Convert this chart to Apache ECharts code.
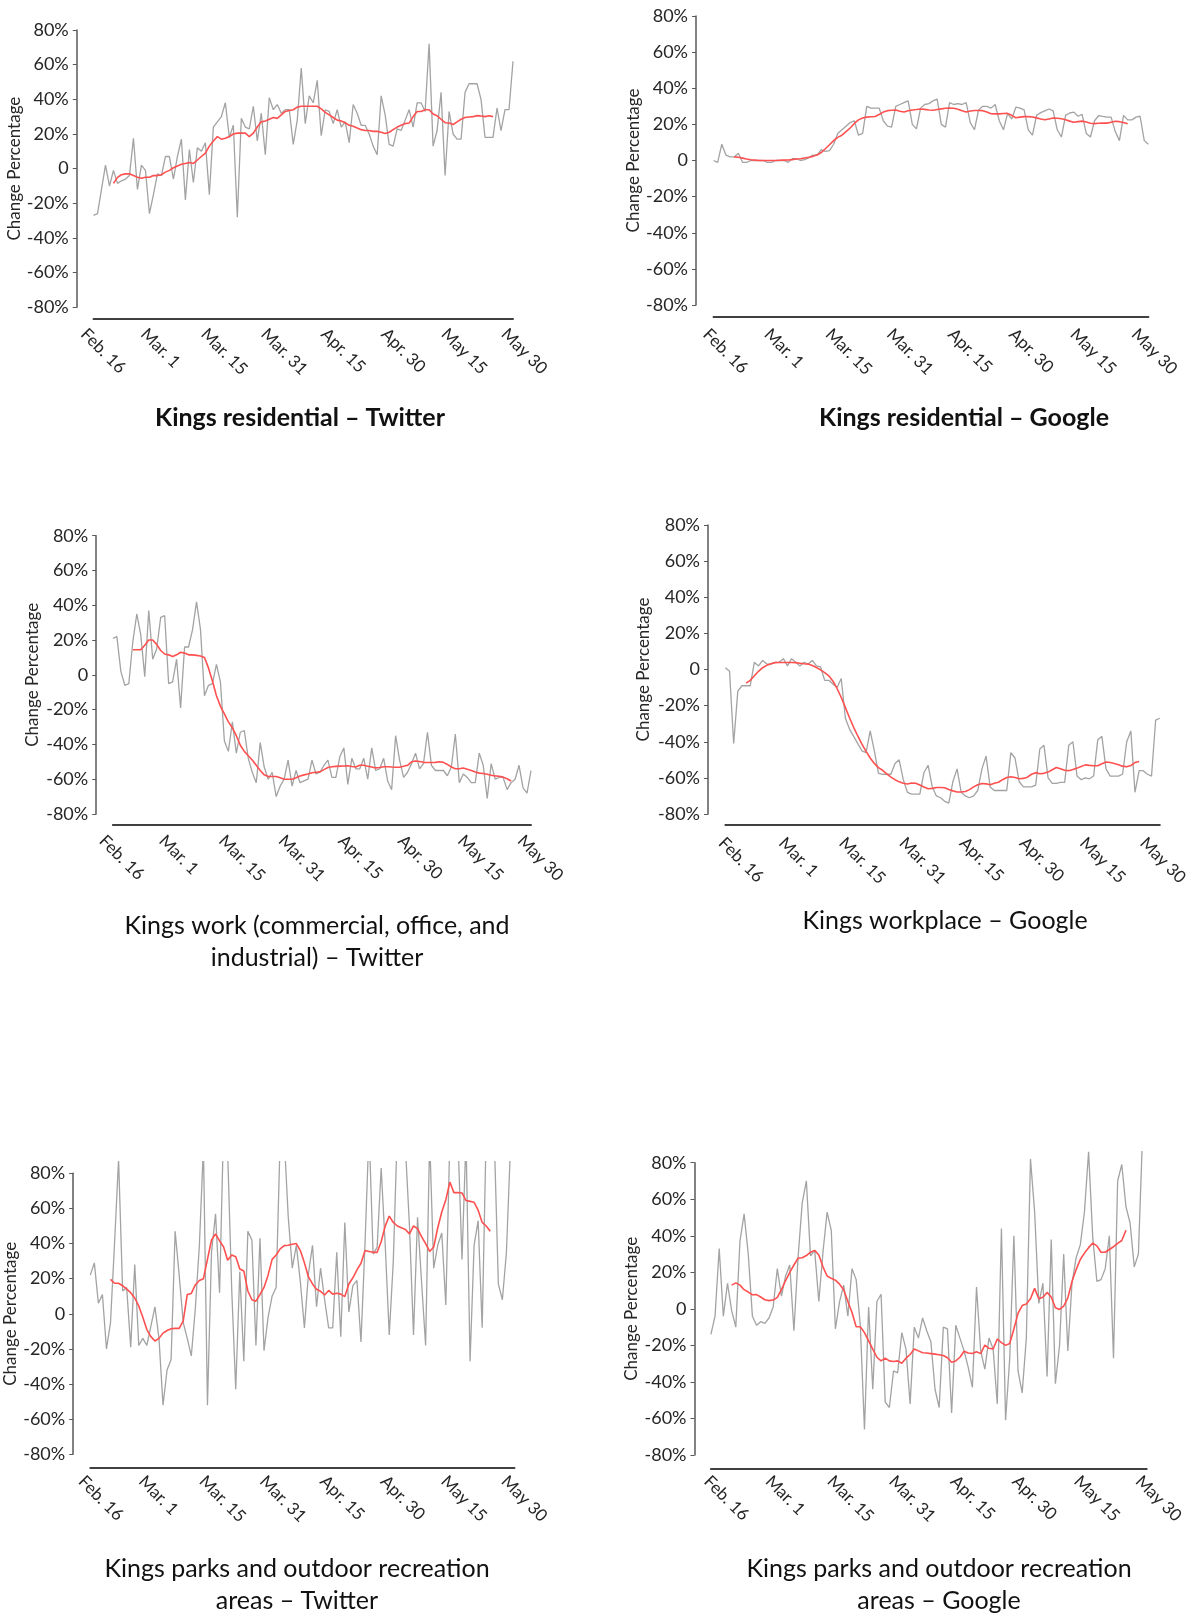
<!DOCTYPE html>
<html><head><meta charset="utf-8">
<script src="https://cdn.jsdelivr.net/npm/echarts@6/dist/echarts.min.js"></script>
<style>html,body{margin:0;padding:0;background:#fff}#c{width:1191px;height:1617px}</style>
</head><body><div id="c"></div>
<script>
// ---------- tick labels ----------
const xTickLabels = ['Feb. 16','Mar. 1','Mar. 15','Mar. 31','Apr. 15','Apr. 30','May 15','May 30'];
const yTickValues = [-80,-60,-40,-20,0,20,40,60,80];
const yTickLabels = ['-80%','-60%','-40%','-20%','0','20%','40%','60%','80%'];
const yAxisTitle = 'Change Percentage';
const panelTitles = [
  'Kings residential – Twitter',
  'Kings residential – Google',
  'Kings work (commercial, office, and\nindustrial) – Twitter',
  'Kings workplace – Google',
  'Kings parks and outdoor recreation\nareas – Twitter',
  'Kings parks and outdoor recreation\nareas – Google'
];

// ---------- daily values (day 0 = Feb. 16 ... day 105 = May 30) ----------
const residentialTwitterDaily = [-27,-26,-12,2,-10,-1,-8.5,-7,-6,-4,
 17.5,-12,2,-1,-26,-15,-3,-4,7,7,
 -6,7,17,-18,11,-8,12,10,15,-15,
 24,27,30,38,18,25,-28,29,24,23,
 36,16,32,8,41,34,37,32,34,34,
 14,28,58,26,42,38,51,19,34,33,
 26,34,24,27,15,37,32,25,25,20,
 13,8,42,31,14,13,23,22,28,34,
 24,38,38,33,72,13,22,44,-4,33,
 20,17,17,44,49,49,49,40,18,18,
 18,35,22,34,34,62];
const residentialTwitterAvg = [null,null,null,null,null,
 -8.5,-5,-3.5,-3,-3, -4,-5,-5.5,-5,-5, -4,-4,-3.5,-2,-1,
 0.5,1.5,2.5,3,3.5, 3,5,7,9,13, 16,18.5,17,17.5,18.5,
 20,20.5,20.5,20.5,18.5, 20.5,24,27,27.5,28.5, 29.5,29,31,33,33.5,
 34,35.5,36,36,36, 36,36,34.5,32.5,31, 29.5,28,27.5,26.5,25,
 24.5,23.5,22.5,22,22, 21.5,21.5,21,20.3,21, 22.5,24,25,26,26.3,
 30,33,33,34,34, 31.5,30.5,28.5,26.5,26.3, 25.5,27,28.5,29.5,29.8,
 30,30.6,30.4,30,30.5, 30];

const residentialGoogleDaily = [0,-1,9,3,2,2,4,-1,-1,0,
 0,0,0,-1,-1,0,0,0,-1,1,
 1,0,0.5,1.5,3,3,6,5,5.5,9,
 15,17,19,21,22,14,15,30,29,29,
 29,22,19,18.5,30,31,32,33,20,17.5,
 29,31,31.5,33,34,20,18.5,32,31,31.5,
 31,32,21,17,28,30,30,29,31,22,
 17,26,23,29.5,29,28,17,14,25,26.5,
 27.5,28.5,27.5,17,13,25,26.3,26.8,24.5,25.5,
 15,13,22,24.9,24.4,24,24,16,11,25,
 22.5,22.5,24,24.5,11,9];
const residentialGoogleAvg = [null,null,null,null,null,
 2,1.8,1.3,0.8,0.4, 0.2,0,0,0,0, 0,0.1,0.2,0.3,0.5,
 0.8,1,1.4,1.8,2.3, 3,4.4,6.5,8.7,11, 12.8,14,16,18,20.5,
 22.5,23.5,24,24.2,24.4, 25.5,26.8,27.6,27.8,28, 27.3,26.8,27.5,28,28.2,
 28.5,28.3,28,27.8,28.2, 28.6,28.9,29.1,28.9,28.4, 27.5,26.9,27.4,27.7,27.7,
 27.6,26.8,25.9,25.8,25.8, 26,26.1,25,23.7,24, 24.3,24.3,24.1,23.6,23,
 22.6,23,23.5,23.4,23.1, 22.6,21.8,21.2,21.5,21.8, 21.3,20.6,20.4,20.6,20.7,
 20.7,21.2,21.7,21.5,21, 20.4];

const workTwitterDaily = [21,22,2,-6,-5,19,35,23,-1,37,
 9,15,33,34,-5,-4,9,-19,16,16,
 26,42,26,-12,-6,-5,6,-4,-38,-44,
 -27,-45,-33,-32,-48,-56,-62,-39,-53,-60,
 -56,-70,-64,-60,-49,-64,-55,-62,-61,-60,
 -49,-57,-56,-52,-49,-59,-59,-47,-42,-63,
 -48,-54,-54,-48,-60,-42,-55,-54,-48,-61,
 -66,-35,-49,-59,-56,-51,-45,-54,-51,-33,
 -52,-55,-55,-55,-58,-53,-34,-62,-57,-59,
 -62,-62,-45,-52,-71,-51,-60,-59,-59,-66,
 -62,-60,-52,-65,-68,-55];
const workTwitterAvg = [null,null,null,null,null,
 14.4,14.4,14.4,17,20, 20,17.5,14,12,11.5, 10.5,11.5,13,12.5,11.5,
 11.5,11.2,10.8,10,4, -3.5,-12,-18,-22.5,-27, -30.5,-35,-40.5,-44,-46.5,
 -49,-52,-55,-57.5,-58.4, -58.4,-58.4,-59.2,-60,-60, -60,-59.2,-58.2,-57.5,-57,
 -56.3,-56,-55.8,-54.5,-53.3, -52.8,-52.6,-52.5,-52.4,-52.3, -52.7,-53,-52,-52,-52.5,
 -53,-53.5,-53.3,-52.8,-52.8, -53,-53.1,-53.1,-52.6,-52, -50,-49.5,-49.8,-50.3,-50.4,
 -50.4,-50.3,-50,-50.3,-51.5, -53,-54,-54,-53.6,-54.3, -55,-55.8,-56.5,-56.7,-57.1,
 -57.7,-58.1,-58.3,-58.8,-59.7, -61];

const workplaceGoogleDaily = [1,-1,-41,-12,-9,-9,-9,4,2,5,
 3,3,4,4,6,2,6,4,2,4,
 3,5,2,1.5,-6,-6,-8,-10,-5,-27,
 -33,-37,-41,-45,-46,-34,-45,-57.5,-58,-58,
 -58,-52,-50,-61,-68,-69,-69,-69,-57,-53,
 -65,-70,-71,-73,-74,-62,-55,-68,-70,-71,
 -70,-67,-55,-48,-65,-67,-67,-67,-67,-46,
 -49,-62,-65,-65,-65,-64,-44,-42,-60,-63,
 -63,-62.5,-62.5,-42,-40,-59,-61,-60,-60.5,-59,
 -39,-37,-55,-59,-59,-59,-58,-40,-34,-68,
 -56,-56,-58,-59,-28,-27];
const workplaceGoogleAvg = [null,null,null,null,null,
 -7.5,-6,-3.5,-1,1, 2.3,3.2,3.8,3.9,3.9, 3.9,3.9,3.8,3.5,3.2,
 3,2.2,1.1,-0.2,-1.7, -3.5,-6.5,-10.5,-15.5,-21, -26.7,-32,-36.8,-41.3,-45.3,
 -49,-52,-54.3,-55.8,-57.8, -59.6,-61,-62.2,-63,-63.4, -62.8,-63,-64,-65,-66,
 -65.8,-65.3,-65.3,-65.5,-66.4, -67.2,-67.8,-67.8,-67.5,-66.5, -65,-63.8,-63.1,-63.3,-63.8,
 -63,-62.4,-61,-59.8,-59.4, -59.8,-60.5,-60.3,-59.6,-58, -57.1,-57.7,-57.5,-56.8,-55.5,
 -54.3,-55,-55.8,-56,-55.4, -54.6,-53.7,-52.8,-53.1,-53.3, -53.3,-52.2,-51.2,-51.5,-52,
 -52.7,-53.5,-53.8,-53.2,-51.5, -50.9];

const parksTwitterDaily = [22,29,6,11,-20,-5,40,88,13,15,
 -19,28,-18,-14,-18,-7,4,-14,-52,-32,
 -26,47,22,-5,-14,-24,3,39,95,-52,
 35,57,12,108,92,14,-43,24,-27,47,
 42,-18,43,-21,-2,10,15,100,100,55,
 26,39,18,-8,23,39,4,26,8,-8,
 -8,35,-13,52,1,16,19,-16,40,105,
 34,38,83,39,-12,30,105,105,95,50,
 -12,55,18,-18,100,26,39,46,5,100,
 110,100,31,100,-27,39,53,-8,105,110,
 100,17,8,35,95,105];
const parksTwitterAvg = [null,null,null,null,null,
 19.6,17.4,17.4,16,14, 12,9,4.5,-2,-9, -13,-15.5,-14,-11,-9.5,
 -8.5,-8.3,-8.3,-4,11, 11.6,16.5,19,20,31, 42,45.5,41.5,38,30.5,
 33.5,32.5,25.5,24.4,13, 8,7.2,11,15,22, 31,33.5,37,38.8,39,
 39.6,40,36,29,21, 17,14,12.8,10.7,13.3, 11.2,11.7,11.2,9.8,17,
 20.5,25,28.8,36,35.5, 35,35,41,50,55.6, 52,50,49,48,45.5,
 50,48.5,44,40,35.5, 38,49,58,65,75, 69,69,68.8,64.5,64,
 63.5,59,52,50,47];

const parksGoogleDaily = [-14,-4,33,-4,14,-1,-10,37,52,30,
 -4,-9,-7,-8,-5,1,22,7,18,24,
 -12,28,58,70,29,32,4,31,53,43,
 -11,4,13,-4,22,16,-9,-66,1,-44,
 4,8,-51,-54,-34,-35,-13,-22,-52,-10,
 -16,-5,-12,-18,-44,-54,-10,-11,-57,-9,
 -16,-23,-32,-43,12,-23,-33,-16,-22,-52,
 44,-61,-27,40,-34,-46,-16,82,53,3,
 14,-37,38,-41,-20,30,-23,14,28,35,
 53,86,39,15,16,22,40,-27,70,79,
 56,47,23,30,95,100];
const parksGoogleAvg = [null,null,null,null,null,
 13,14.2,13,10.5,9.2, 7.7,7.8,6.5,5,4.5, 4.8,6.3,10.5,15.5,20,
 24,27.7,28,29.2,31, 32,29.5,23,18,16.7, 15.7,13.5,10.5,4,-2,
 -9.8,-9.8,-13,-17.5,-22, -26.5,-28.5,-27,-28.5,-28.8, -28.5,-29.8,-27,-25,-22,
 -23,-24,-24.2,-24.5,-24.8, -25.1,-25.5,-26.8,-29.2,-28.5, -26.5,-23.2,-24.2,-24.4,-23.5,
 -24.5,-19.8,-21.6,-22,-16.5, -18.5,-20,-19,-11,-2.5, 1.8,2.7,5.5,11.2,5.5,
 6.3,9,6.5,0.6,-0.3, 1.5,6,15,21.5,27, 30.5,33.5,36,34.5,31,
 31,32.5,34,35.8,37.4, 43];

const rawSeries = [residentialTwitterDaily, residentialGoogleDaily, workTwitterDaily, workplaceGoogleDaily, parksTwitterDaily, parksGoogleDaily];
const avgSeries = [residentialTwitterAvg, residentialGoogleAvg, workTwitterAvg, workplaceGoogleAvg, parksTwitterAvg, parksGoogleAvg];

// ---------- layout (pixels) ----------
const layout = [
 {dl:93.5, dr:513, y80:30, ym80:307.3, xa:318.3, top:null, ya:76.8, ll:83.6, lw:420.6, lm:24, ng:47, tx:300, ty:418, bold:true},
 {dl:713.5, dr:1148.4, y80:16, ym80:305, xa:316.7, top:null, ya:696, ll:706, lw:428.4, lm:26.5, ng:50, tx:964, ty:418, bold:true},
 {dl:112.9, dr:531, y80:535.7, ym80:814, xa:824.3, top:null, ya:96.2, ll:102.1, lw:418.3, lm:24, ng:55, tx:317, ty:942, bold:false},
 {dl:725.4, dr:1159.8, y80:525, ym80:814, xa:825, top:null, ya:708, ll:721.5, lw:427.3, lm:26.3, ng:56, tx:945, ty:921, bold:false},
 {dl:90.3, dr:514.5, y80:1173.3, ym80:1454.3, xa:1467.7, top:1161.7, ya:73.2, ll:81.3, lw:422.9, lm:24.4, ng:54, tx:297, ty:1584.5, bold:false},
 {dl:710.9, dr:1146.7, y80:1162.7, ym80:1455, xa:1468.3, top:1151.7, ya:694.5, ll:706.8, lw:431.7, lm:23.5, ng:54, tx:939, ty:1585, bold:false}
];

const FONT = 'Lato';
const AXIS_COLOR = '#595959';
const TEXT_COLOR = '#262626';
const grids = [], xAxes = [], yAxes = [], series = [], graphics = [];

layout.forEach((p, k) => {
  const per20 = (p.ym80 - p.y80) / 8;
  const dTop = (p.top == null) ? p.y80 - (p.xa - p.ym80) : p.top;
  const yMax = 80 + (p.y80 - dTop) / per20 * 20;
  const yMin = -80 - (p.xa - p.ym80) / per20 * 20;
  // data grid
  grids.push({left: p.dl, width: p.dr - p.dl, top: dTop, height: p.xa - dTop});
  xAxes.push({gridIndex: 2*k, type: 'value', min: 0, max: 105,
    axisLine: {show: true, onZero: false, lineStyle: {color: '#404040', width: 2}},
    axisTick: {show: false}, axisLabel: {show: false}, splitLine: {show: false}});
  yAxes.push({gridIndex: 2*k, type: 'value', min: yMin, max: yMax, show: false, splitLine: {show: false}});
  // axis grid (visible y axis + x labels)
  grids.push({left: p.ll, width: p.lw, top: p.y80, height: p.ym80 - p.y80});
  xAxes.push({gridIndex: 2*k+1, type: 'value', min: 0, max: 105, interval: 15,
    axisLine: {show: false, onZero: false}, axisTick: {show: false}, splitLine: {show: false},
    axisLabel: {rotate: -45, margin: p.lm, fontFamily: FONT, fontSize: 17, color: TEXT_COLOR,
      formatter: v => xTickLabels[Math.round(v / 15)]}});
  yAxes.push({gridIndex: 2*k+1, type: 'value', min: -80, max: 80, interval: 20,
    offset: p.ll - p.ya,
    axisLine: {show: true, onZero: false, lineStyle: {color: AXIS_COLOR, width: 1.5}},
    axisTick: {show: true, length: 4, lineStyle: {color: AXIS_COLOR, width: 1}},
    splitLine: {show: false},
    axisLabel: {margin: 8, fontFamily: FONT, fontSize: 18, color: TEXT_COLOR,
      formatter: v => yTickLabels[yTickValues.indexOf(v)]},
    name: yAxisTitle, nameLocation: 'middle', nameGap: p.ng,
    nameTextStyle: {fontFamily: FONT, fontSize: 17, color: TEXT_COLOR}});
  series.push({type: 'line', xAxisIndex: 2*k, yAxisIndex: 2*k, showSymbol: false, symbol: 'none',
    data: rawSeries[k].map((v, i) => [i, v]),
    lineStyle: {color: '#a3a3a3', width: 1.3}, z: 2});
  series.push({type: 'line', xAxisIndex: 2*k, yAxisIndex: 2*k, showSymbol: false, symbol: 'none',
    data: avgSeries[k].map((v, i) => [i, v]), connectNulls: false,
    lineStyle: {color: '#ff5050', width: 1.6}, z: 3});
  graphics.push({type: 'text', x: p.tx, y: p.ty,
    style: {text: panelTitles[k], textAlign: 'center', textVerticalAlign: 'middle',
      fontFamily: FONT, fontSize: 25, fontWeight: p.bold ? 'bold' : 'normal', lineHeight: 32, fill: '#111'}});
});

const chart = echarts.init(document.getElementById('c'), null, {renderer: 'canvas'});
chart.setOption({
  animation: false,
  backgroundColor: '#fff',
  textStyle: {fontFamily: FONT},
  grid: grids, xAxis: xAxes, yAxis: yAxes, series: series,
  graphic: graphics
});
</script>
</body></html>
